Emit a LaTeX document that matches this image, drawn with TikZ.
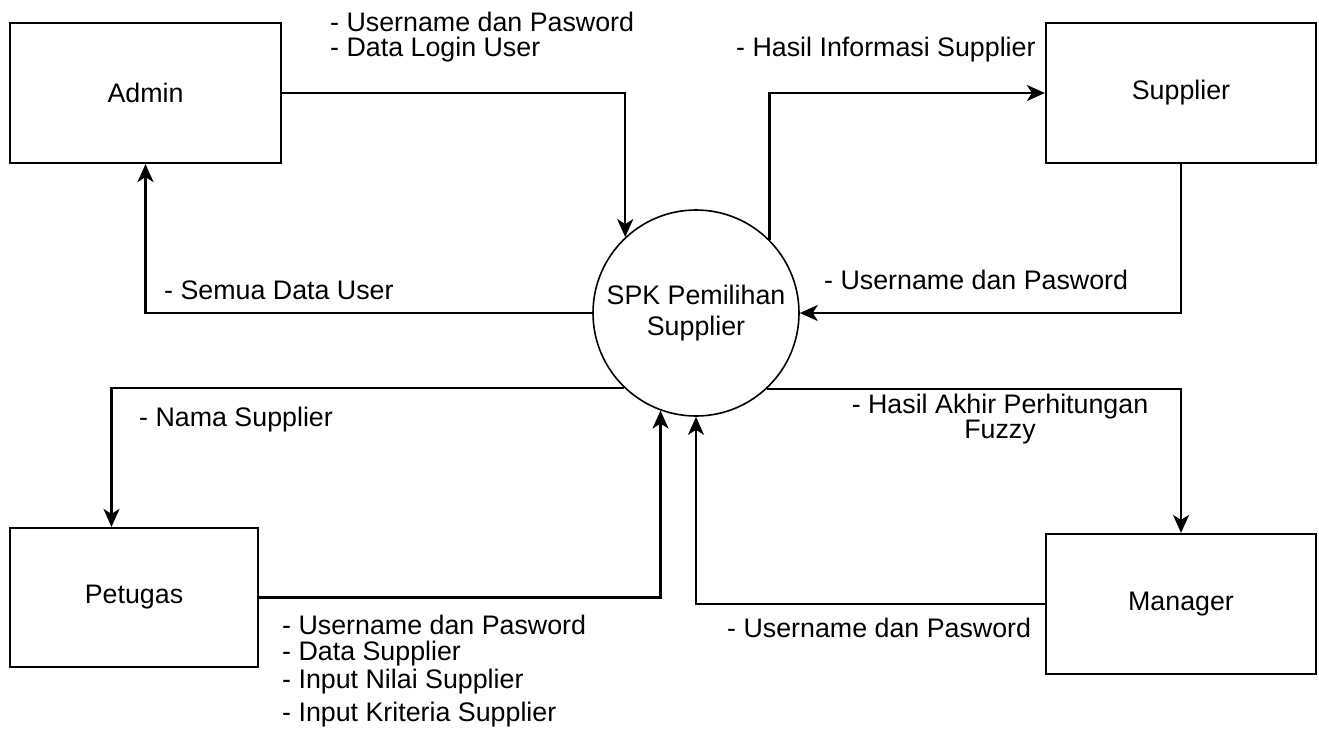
\documentclass[tikz,border=0pt]{standalone}
\usepackage{fontspec}
\setmainfont{Liberation Sans}
\usetikzlibrary{arrows.meta}
\begin{document}
\begin{tikzpicture}[x=1pt,y=-1pt,
  every node/.style={font=\fontsize{26.8}{25.5}\selectfont, inner sep=0pt},
  entity/.style={draw, line width=2.2pt, rectangle},
  proc/.style={draw, line width=1.6pt, circle, minimum size=206pt, align=center, font=\fontsize{26.8}{31}\selectfont},
  flow/.style={line width=2.2pt, -{Stealth[length=18pt,width=16pt,inset=5pt]}},
  lbl/.style={align=left, anchor=west}
]
\useasboundingbox (0,0) rectangle (1319,731);
\fill[white] (0,0) rectangle (1319,731);

\node[entity, minimum width=271pt, minimum height=140pt] (admin) at (145.5,93) {Admin};
\node[entity, minimum width=270pt, minimum height=140pt] (supplier) at (1181,93) {Supplier};
\node[entity, minimum width=248pt, minimum height=139pt] (petugas) at (134,597.5) {Petugas};
\node[entity, minimum width=270pt, minimum height=140pt] (manager) at (1181,604) {Manager};
\node[proc] (spk) at (696,313) {SPK Pemilihan\\Supplier};

\draw[flow] (admin.east) -| (spk.133.6);
\draw[flow] (spk.west) -| (admin.south);
\draw[flow] (spk.45) |- (supplier.west);
\draw[flow] (supplier.south) |- (spk.east);
\draw[flow] (spk.226.7) -| ([xshift=-22.5pt]petugas.north);
\draw[flow] (spk.313.3) -| (manager.north);
\draw[flow] (petugas.east) -| (spk.250.7);
\draw[flow] (manager.west) -| (spk.south);

\node[lbl] (l1) at (330,37) {- Username dan Pasword\\- Data Login User};
\node[lbl] (l2) at (736,50) {- Hasil Informasi Supplier};
\node[lbl] (l3) at (164,290) {- Semua Data User};
\node[lbl] (l4) at (824,280) {- Username dan Pasword};
\node[lbl] (l5) at (139,420) {- Nama Supplier};
\node[align=center] (l6) at (1000,419) {- Hasil Akhir Perhitungan\\Fuzzy};
\node[lbl, anchor=north west] (l7) at (282,615) {- Username dan Pasword\\- Data Supplier\\[3pt]- Input Nilai Supplier\\[7pt]- Input Kriteria Supplier};
\node[lbl] (l8) at (727,628) {- Username dan Pasword};
\end{tikzpicture}
\end{document}
